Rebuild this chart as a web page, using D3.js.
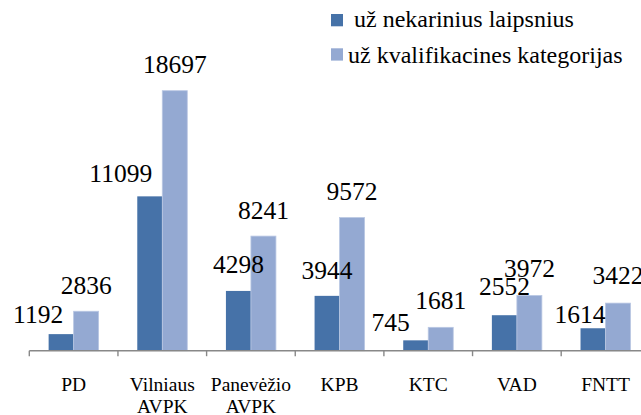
<!DOCTYPE html>
<html>
<head>
<meta charset="utf-8">
<script src="https://cdn.jsdelivr.net/npm/d3@7"></script>
<style>
  html, body { margin: 0; padding: 0; background: #fff; }
</style>
</head>
<body>
<svg id="chart" width="641" height="415"></svg>
<script>
// ---- data ----
const categories = ["PD", "Vilniaus AVPK", "Panevėžio AVPK", "KPB", "KTC", "VAD", "FNTT"];
const seriesNames = [" už nekarinius laipsnius", "už kvalifikacines kategorijas"];
const nekariniai = [1192, 11099, 4298, 3944, 745, 2552, 1614];
const kvalifikacines = [2836, 18697, 8241, 9572, 1681, 3972, 3422];
const seriesValues = [nekariniai, kvalifikacines];
// label nudges [dx, dy] relative to default centred position
const labelNudgeDark = [[-23, 6], [-29, 3], [0, 0], [0, 0.5], [-25, 8.5], [0, -2.5], [-13, 12.5]];
const labelNudgeLight = [[0, 0], [0, 0], [0, 0], [0, 0], [0, -1], [0, -1], [0, -1.5]];
const labelNudges = [labelNudgeDark, labelNudgeLight];
const colors = ["#4672A8", "#94A9D2"];
const FONT = "'Liberation Serif'";

// ---- layout ----
const svg = d3.select("#chart").style("font-family", FONT);
const baseY = 350.7;
const left = 29.3, slot = 88.65;

const x0 = d3.scaleBand().domain(categories).range([left, left + slot * categories.length]).padding(0);
const bw = x0.bandwidth();
const groupW = 50;
const x1 = d3.scaleBand().domain(d3.range(seriesValues.length)).range([(bw - groupW) / 2, (bw + groupW) / 2]).padding(0);
const y = d3.scaleLinear().domain([0, 20000]).range([baseY, baseY - 20000 * 0.013906]);

// bars
seriesValues.forEach((vals, si) => {
  svg.append("g").selectAll("rect").data(vals).join("rect")
    .attr("x", (d, i) => x0(categories[i]) + x1(si))
    .attr("y", d => y(d))
    .attr("width", x1.bandwidth())
    .attr("height", d => y(0) - y(d))
    .attr("fill", colors[si])
    .attr("stroke", si === 1 ? "#B9C7E3" : "none")
    .attr("stroke-width", si === 1 ? 0.8 : 0);
});

// axis line + boundary ticks
const axisG = svg.append("g");
axisG.append("line")
  .attr("x1", x0.range()[0]).attr("x2", 641)
  .attr("y1", baseY).attr("y2", baseY)
  .attr("stroke", "#888").attr("stroke-width", 1.4);
const boundaries = categories.map(c => x0(c)).concat([x0.range()[1]]);
axisG.selectAll("line.tick").data(boundaries).join("line")
  .attr("class", "tick")
  .attr("x1", d => d).attr("x2", d => d)
  .attr("y1", baseY).attr("y2", baseY + 5.5)
  .attr("stroke", "#888").attr("stroke-width", 1.4);

// category labels
const catG = svg.append("g");
categories.forEach(c => {
  const words = c.split(" ");
  const t = catG.append("text")
    .attr("x", x0(c) + bw / 2)
    .attr("y", 391)
    .attr("text-anchor", "middle")
    .style("font-family", FONT)
    .style("font-size", "19.5px")
    .attr("fill", "#000");
  words.forEach((w, wi) => {
    t.append("tspan").attr("x", x0(c) + bw / 2).attr("dy", wi === 0 ? 0 : 22.3).text(w);
  });
});

// data labels
seriesValues.forEach((vals, si) => {
  svg.append("g").selectAll("text").data(vals).join("text")
    .attr("x", (d, i) => x0(categories[i]) + x1(si) + x1.bandwidth() / 2 + labelNudges[si][i][0])
    .attr("y", (d, i) => y(d) - 17.5 + labelNudges[si][i][1])
    .attr("text-anchor", "middle")
    .style("font-family", FONT)
    .style("font-size", "25.5px")
    .attr("fill", "#000")
    .text(d => d);
});

// legend
const lg = svg.append("g");
const legY = [14, 48.3];
const legTextY = [27.3, 63.3];
seriesNames.forEach((n, si) => {
  lg.append("rect").attr("x", 331).attr("y", legY[si]).attr("width", 12).attr("height", 12.3).attr("fill", colors[si]);
  lg.append("text").attr("x", 348).attr("y", legTextY[si])
    .style("font-family", FONT)
    .style("font-size", "24px").attr("fill", "#000")
    .style("white-space", "pre")
    .text(n);
});
</script>
</body>
</html>
